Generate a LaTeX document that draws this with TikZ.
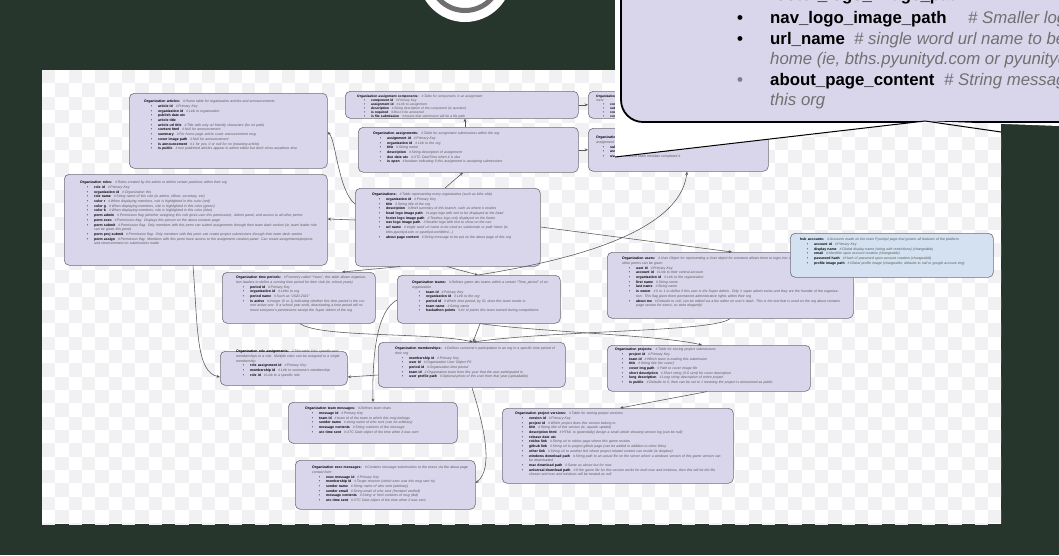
\documentclass[tikz,border=0pt]{standalone}
\usepackage{fontspec}
\setmainfont{Liberation Sans}
\usetikzlibrary{arrows.meta}
\definecolor{bgdark}{HTML}{27362C}
\definecolor{boxfill}{HTML}{D9D6EB}
\definecolor{boxline}{HTML}{6E6E78}
\definecolor{hubfill}{HTML}{D3E1F0}
\definecolor{cmt}{HTML}{5A5A5A}
\definecolor{connc}{HTML}{555555}
\definecolor{chk}{HTML}{F1F1F4}
\definecolor{ringgrey}{HTML}{6F6F6F}
\definecolor{bigcmt}{HTML}{707070}
% table title line, bulleted field with comment, bulleted field without comment
\newcommand\dbt[2]{\noindent\textbf{#1}\hspace{3pt}{\itshape\color{cmt}\#\,#2}\par}
\newcommand\dbi[2]{{\leftskip=14pt\noindent\llap{\textbullet\hspace{6pt}}\textbf{#1}\hspace{3pt}{\itshape\color{cmt}\#\,#2}\par}}
\newcommand\dbn[1]{{\leftskip=14pt\noindent\llap{\textbullet\hspace{6pt}}\textbf{#1}\par}}
\tikzset{
  dbbox/.style={draw=boxline, fill=boxfill, rounded corners=5pt, line width=0.6pt, anchor=north west, inner sep=0pt},
  dbtext/.style={anchor=north west, inner sep=0pt, align=left, font=\fontsize{3.5}{4.7}\selectfont},
  conn/.style={draw=connc, line width=0.55pt, -{Stealth[length=3.4pt,width=2.8pt]}},
  bigname/.style={anchor=base west, inner sep=0pt, font=\fontsize{16.8}{19}\selectfont\bfseries},
  bigcomment/.style={anchor=base west, inner sep=0pt, font=\fontsize{16.8}{19}\selectfont\itshape, text=bigcmt},
}
\begin{document}
\begin{tikzpicture}[x=1pt,y=-1pt]
\useasboundingbox (0,0) rectangle (1059,555);
\fill[bgdark] (0,0) rectangle (1059,555);

% white canvas with a faint transparency grid
\fill[white] (42,70) rectangle (1001,524);
\begin{scope}
  \clip (42,70) rectangle (1001,524);
  \foreach \i in {0,...,72}{
    \foreach \j in {0,...,34}{
      \pgfmathtruncatemacro\p{mod(\i+\j,2)}
      \ifnum\p=0 \fill[chk] (42+\i*13.33,70+\j*13.33) rectangle ++(13.33,13.33); \fi
    }
  }
\end{scope}

% round badge at the top
\fill[white] (465,-25) circle (47);
\draw[ringgrey, line width=5pt] (465,-25) circle (35.5);

% ---------- tables ----------
\node[dbbox, minimum width=198pt, minimum height=75pt] (articles) at (129,93) {};
\node[dbtext, text width=172pt] (articles-t) at (144,100) {%
\dbt{Organization articles:}{Home table for organization articles and announcements}
\dbi{article id}{Primary Key}
\dbi{organization id}{Link to organization}
\dbn{publish date utc}
\dbn{article title}
\dbi{article url title}{Title with only url friendly characters (for url path)}
\dbi{content html}{Null for announcement}
\dbi{summary}{For home page article cover announcement msg}
\dbi{cover image path}{Null for announcement}
\dbi{is announcement}{1 for yes, 0 or null for no (meaning article)}
\dbi{is public}{non published articles appear in admin editor but don't show anywhere else}};

\node[dbbox, minimum width=233pt, minimum height=27pt] (components) at (345,91) {};
\node[dbtext, text width=212pt, font=\fontsize{3.3}{3.9}\selectfont] (components-t) at (357,95) {%
\dbt{Organization assignment components:}{Table for components in an assignment}
\dbi{component id}{Primary Key}
\dbi{assignment id}{Link to assignment}
\dbi{description}{String description of the component (ie question)}
\dbi{is required}{Must it be answered}
\dbi{is file submission}{means that submission will be a file path}};

\node[dbbox, minimum width=220pt, minimum height=45pt] (assignments) at (358,127) {};
\node[dbtext, text width=196pt] (assignments-t) at (373,132) {%
\dbt{Organization assignments:}{Table for assignment submissions within the org}
\dbi{assignment id}{Primary Key}
\dbi{organization id}{Link to the org}
\dbi{title}{String name}
\dbi{description}{String description of assignment}
\dbi{due date utc}{UTC DateTime when it is due}
\dbi{is open}{boolean indicating if this assignment is accepting submissions}};

\node[dbbox, minimum width=150pt, minimum height=27pt] (boxA) at (588,91) {};
\node[dbtext, text width=130pt, font=\fontsize{3.3}{3.9}\selectfont] (boxA-t) at (596,95) {%
\dbt{Organization component submissions:}{Answers to the components of an assignment}
\dbi{component submission id}{Primary Key}
\dbi{submission id}{Link to assignment submission}
\dbi{component id}{Link to component}
\dbi{content}{String answer or file path}};

\node[dbbox, minimum width=180pt, minimum height=43pt] (boxB) at (588,128) {};
\node[dbtext, text width=150pt] (boxB-t) at (596,136) {%
\dbt{Organization assignment submissions:}{Submissions made by teams in response to an assignment}
\dbi{submission id}{Primary Key}
\dbi{assignment id}{Link to assignment}
\dbi{user id}{Which team member completed it}};

\node[dbbox, minimum width=263pt, minimum height=91pt] (roles) at (64,174) {};
\node[dbtext, text width=238pt] (roles-t) at (80,181) {%
\dbt{Organization roles:}{Roles created by the admin to define certain positions within their org}
\dbi{role id}{Primary Key}
\dbi{organization id}{Organization this}
\dbi{role name}{String name of this role (ie admin, officer, secretary, etc)}
\dbi{color r}{When displaying members, role is highlighted in this color (red)}
\dbi{color g}{When displaying members, role is highlighted in this color (green)}
\dbi{color b}{When displaying members, role is highlighted in this color (blue)}
\dbi{perm admin}{Permission flag (whether assigning this role gives user this permission): Admin panel, and access to all other perms}
\dbi{perm exec}{Permission flag: Displays this person on the about contacts page}
\dbi{perm submit}{Permission flag: Only members with this perm can submit assignments through their team dash section (ie, team leader role can be given this perm)}
\dbi{perm proj submit}{Permission flag: Only members with this perm can create project submissions through their team dash section}
\dbi{perm assign}{Permission flag: Members with this perm have access to the assignment creation panel. Can create assignments/projects and view/comment on submissions made}};

\node[dbbox, minimum width=185pt, minimum height=78pt] (organizations) at (355,188) {};
\node[dbtext, text width=162pt] (organizations-t) at (372,193) {%
\dbt{Organizations:}{Table representing every organization (such as bths club)}
\dbi{organization id}{Primary Key}
\dbi{title}{String title of the org}
\dbi{description}{Brief summary of this branch, such as where it resides}
\dbi{head logo image path}{Large logo with text to be displayed at the head}
\dbi{footer logo image path}{Textless logo only displayed on the footer}
\dbi{nav logo image path}{Smaller logo with text to show on the nav}
\dbi{url name}{single word url name to be used as subdomain or path home (ie, bths.pyunityd.com or pyunityd.com/bths/...)}
\dbi{about page content}{String message to be put on the about page of this org}};

\node[dbbox, minimum width=246pt, minimum height=66pt] (users) at (607,252) {};
\node[dbtext, text width=222pt] (users-t) at (622,257) {%
\dbt{Organization users:}{User Object for representing a User object for someone allows them to login into an org dash at the minimum, but other perms can be given}
\dbi{user id}{Primary Key}
\dbi{account id}{Link to their central account}
\dbi{organization id}{Link to the organization}
\dbi{first name}{String name}
\dbi{last name}{String name}
\dbi{is owner}{0 or 1 to define if this user is the Super Admin. Only 1 super admin exists and they are the founder of the organization. This flag gives them permanent administrative rights within their org}
\dbi{about me}{Defaults to null, can be edited via a bio editor on user's dash. This is the text that is used on the org about contacts page section for execs, so write elegantly!}};

\node[dbbox, fill=hubfill, minimum width=203pt, minimum height=44pt] (hub) at (790,233) {};
\node[dbtext, text width=185pt] (hub-t) at (800,238) {%
\dbt{hub accounts:}{Accounts made on the main Pyunityd page that govern all features of the platform}
\dbi{account id}{Primary Key}
\dbi{display name}{Global display name (string with restrictions) (changeable)}
\dbi{email}{Identifier upon account creation (changeable)}
\dbi{password hash}{Hash of password upon account creation (changeable)}
\dbi{profile image path}{Global profile image (changeable, defaults to null or google account img)}};

\node[dbbox, minimum width=153pt, minimum height=51pt] (periods) at (222,272) {};
\node[dbtext, text width=132pt] (periods-t) at (236,276) {%
\dbt{Organization time periods:}{Formerly called ``Years'', this table allows organization leaders to define a running time period for their club (ie, school years)}
\dbi{period id}{Primary Key}
\dbi{organization id}{Links to org}
\dbi{period name}{Such as ``2020-2021''}
\dbi{is active}{Integer (0 or 1) indicating whether this time period is the current active one. If a school year ends, deactivating a time period will remove everyone's permissions except the Super Admin of the org}};

\node[dbbox, minimum width=163pt, minimum height=48pt] (teams) at (397,275) {};
\node[dbtext, text width=142pt] (teams-t) at (412,281) {%
\dbt{Organization teams:}{Defines game dev teams within a certain ``Time\_period'' of an organization}
\dbi{team id}{Primary Key}
\dbi{organization id}{Link to the org}
\dbi{period id}{Which time period, by ID, does this team reside in}
\dbi{team name}{String name}
\dbi{hackathon points}{int of points this team earned during competitions}};

\node[dbbox, minimum width=127pt, minimum height=34pt] (roleasg) at (220,351) {};
\node[dbtext, text width=104pt] (roleasg-t) at (236,350) {%
\dbt{Organization role assignments:}{This table links specific user memberships to a role. Multiple roles can be assigned to a single membership}
\dbi{role assignment id}{Primary Key}
\dbi{membership id}{Link to someone's membership}
\dbi{role id}{Link to a specific role}};

\node[dbbox, minimum width=187pt, minimum height=45pt] (memberships) at (378,342) {};
\node[dbtext, text width=166pt] (memberships-t) at (395,347) {%
\dbt{Organization memberships:}{Defines someone's participation in an org in a specific time period of their org}
\dbi{membership id}{Primary Key}
\dbi{user id}{Organization User Object FK}
\dbi{period id}{Organization time period}
\dbi{team id}{Organization team from this year that the user participated in}
\dbi{user profile path}{Optional photo of this user from that year (uploadable)}};

\node[dbbox, minimum width=203pt, minimum height=46pt] (projects) at (607,345) {};
\node[dbtext, text width=185pt] (projects-t) at (615,348) {%
\dbt{Organization projects:}{Table for storing project submissions}
\dbi{project id}{Primary Key}
\dbi{team id}{Which team is making this submission}
\dbi{title}{String title (for cover)}
\dbi{cover img path}{Path to cover image file}
\dbi{short description}{Short string (3-6 sent) for cover description}
\dbi{long description}{Long string description of entire project}
\dbi{is public}{Defaults to 0, then can be set to 1 meaning the project is announced as public}};

\node[dbbox, minimum width=169pt, minimum height=41pt] (teammsg) at (288,402) {};
\node[dbtext, text width=148pt] (teammsg-t) at (305,407) {%
\dbt{Organization team messages:}{Defines team chats}
\dbi{message id}{Primary Key}
\dbi{team id}{team id of the team to which this msg belongs}
\dbi{sender name}{string name of who sent (can be arbitrary)}
\dbi{message contents}{String contents of the message}
\dbi{utc time sent}{UTC Date object of the time when it was sent}};

\node[dbbox, minimum width=231pt, minimum height=75pt] (versions) at (502,408) {};
\node[dbtext, text width=208pt] (versions-t) at (515,412) {%
\dbt{Organization project versions:}{Table for storing project versions}
\dbi{version id}{Primary Key}
\dbi{project id}{Which project does this version belong to}
\dbi{title}{String title of this version (ie, aquatic update)}
\dbi{description html}{HTML to (potentially) design a small article showing version log (can be null)}
\dbn{release date utc}
\dbi{roblox link}{String url to roblox page where this game resides}
\dbi{github link}{String url to project github page (can be added in addition to other links)}
\dbi{other link}{String url to another link where project related content can reside (ie dropbox)}
\dbi{windows download path}{String path to an actual file on the server where a windows version of this game version can be downloaded}
\dbi{mac download path}{Same as above but for mac}
\dbi{universal download path}{If the game file for this version works for both mac and windows, then this will be the file chosen and mac and windows will be treated as null}};

\node[dbbox, minimum width=180pt, minimum height=49pt] (execmsg) at (295,460) {};
\node[dbtext, text width=158pt] (execmsg-t) at (312,466) {%
\dbt{Organization exec messages:}{Contains message submissions to the execs via the about page contact form}
\dbi{exec message id}{Primary Key}
\dbi{membership id}{Target receiver (which exec was this msg sent to)}
\dbi{sender name}{String name of who sent (arbitrary)}
\dbi{sender email}{String email of who sent (frontend verified)}
\dbi{message contents}{String or html contents of msg (tbd)}
\dbi{utc time sent}{UTC Date object of the time when it was sent}};

% ---------- relations ----------
\draw[conn] ([yshift=-16pt]organizations.north west) .. controls (338,190) and (336,140) .. ([yshift=-39pt]articles.north east);
\draw[conn] ([yshift=-32pt]organizations.north west) -- ([yshift=-45pt]roles.north east);
\draw[conn] ([xshift=90pt]organizations.north west) -- ([xshift=105pt]assignments.south west);
\draw[conn] ([xshift=107pt]assignments.north west) -- ([xshift=120pt]components.south west);
\draw[conn] (components.east) -- (boxA.west);
\draw[conn] (assignments.east) -- (boxB.west);
\draw[conn] ([xshift=81pt]teams.north west) .. controls (560,262) and (680,235) .. ([xshift=99pt]boxB.south west);
\draw[conn] ([xshift=92pt]organizations.south west) -- ([xshift=81pt]teams.north west);
\draw[conn] ([xshift=45pt]organizations.south west) -- ([xshift=120pt]periods.north west);
\draw[conn] ([yshift=-39pt]organizations.north east) -- ([xshift=125pt]users.north west);
\draw[conn] ([xshift=123pt]users.south west) .. controls (715,332) and (560,330) .. ([xshift=95pt]memberships.north west);
\draw[conn] ([xshift=83pt]teams.south west) .. controls (540,332) and (660,335) .. ([xshift=95pt]projects.north west);
\draw[conn] ([xshift=83pt]teams.south west) -- ([xshift=95pt]memberships.north west);
\draw[conn] ([xshift=78pt]periods.south west) .. controls (320,338) and (430,332) .. ([xshift=95pt]memberships.north west);
\draw[conn] ([yshift=-33pt]memberships.north west) -- ([yshift=-26pt]roleasg.north east);
\draw[conn] ([xshift=129pt]roles.south west) .. controls (198,330) and (196,372) .. ([yshift=-26pt]roleasg.north west);
\draw[conn] ([yshift=-25pt]teams.north west) .. controls (378,310) and (372,350) .. ([xshift=85pt]teammsg.north west);
\draw[conn] ([xshift=94pt]memberships.south west) .. controls (482,420) and (495,468) .. ([yshift=-23pt]execmsg.north east);
\draw[conn] ([xshift=100pt]projects.south west) -- ([xshift=118pt]versions.north west);

% ---------- enlarged view of the organizations table ----------
\fill[white] (615,0) -- (1059,0) -- (1059,126) -- (925,121) -- (615,157) -- cycle;
\begin{scope}
  \clip (615,0) -- (1059,0) -- (1059,126) -- (925,121) -- (615,157) -- cycle;
  \draw[line width=1.8pt, fill=boxfill, rounded corners=22pt] (621,-60) rectangle (1120,122);
  \node[bigname] (z0) at (770,0.5) {footer\_logo\_image\_path};
  \node[bigname] (z1b) at (737,23.5) {\textbullet};
  \node[bigname] (z1) at (770,23.5) {nav\_logo\_image\_path};
  \node[bigcomment] (z1c) at (968,23.5) {\# Smaller logo};
  \node[bigname] (z2b) at (737,44) {\textbullet};
  \node[bigname] (z2) at (770,44) {url\_name};
  \node[bigcomment] (z2c) at (854,44) {\# single word url name to be used};
  \node[bigcomment] (z3c) at (770,64.5) {home (ie, bths.pyunityd.com or pyunityd.com};
  \node[bigname, text=gray] (z4b) at (737,85) {\textbullet};
  \node[bigname] (z4) at (770,85) {about\_page\_content};
  \node[bigcomment] (z4c) at (944,85) {\# String message};
  \node[bigcomment] (z5c) at (770,105.5) {this org};
\end{scope}
\draw[black, line width=1pt] (615,157) -- (925,121) -- (1001,132);
\end{tikzpicture}
\end{document}
